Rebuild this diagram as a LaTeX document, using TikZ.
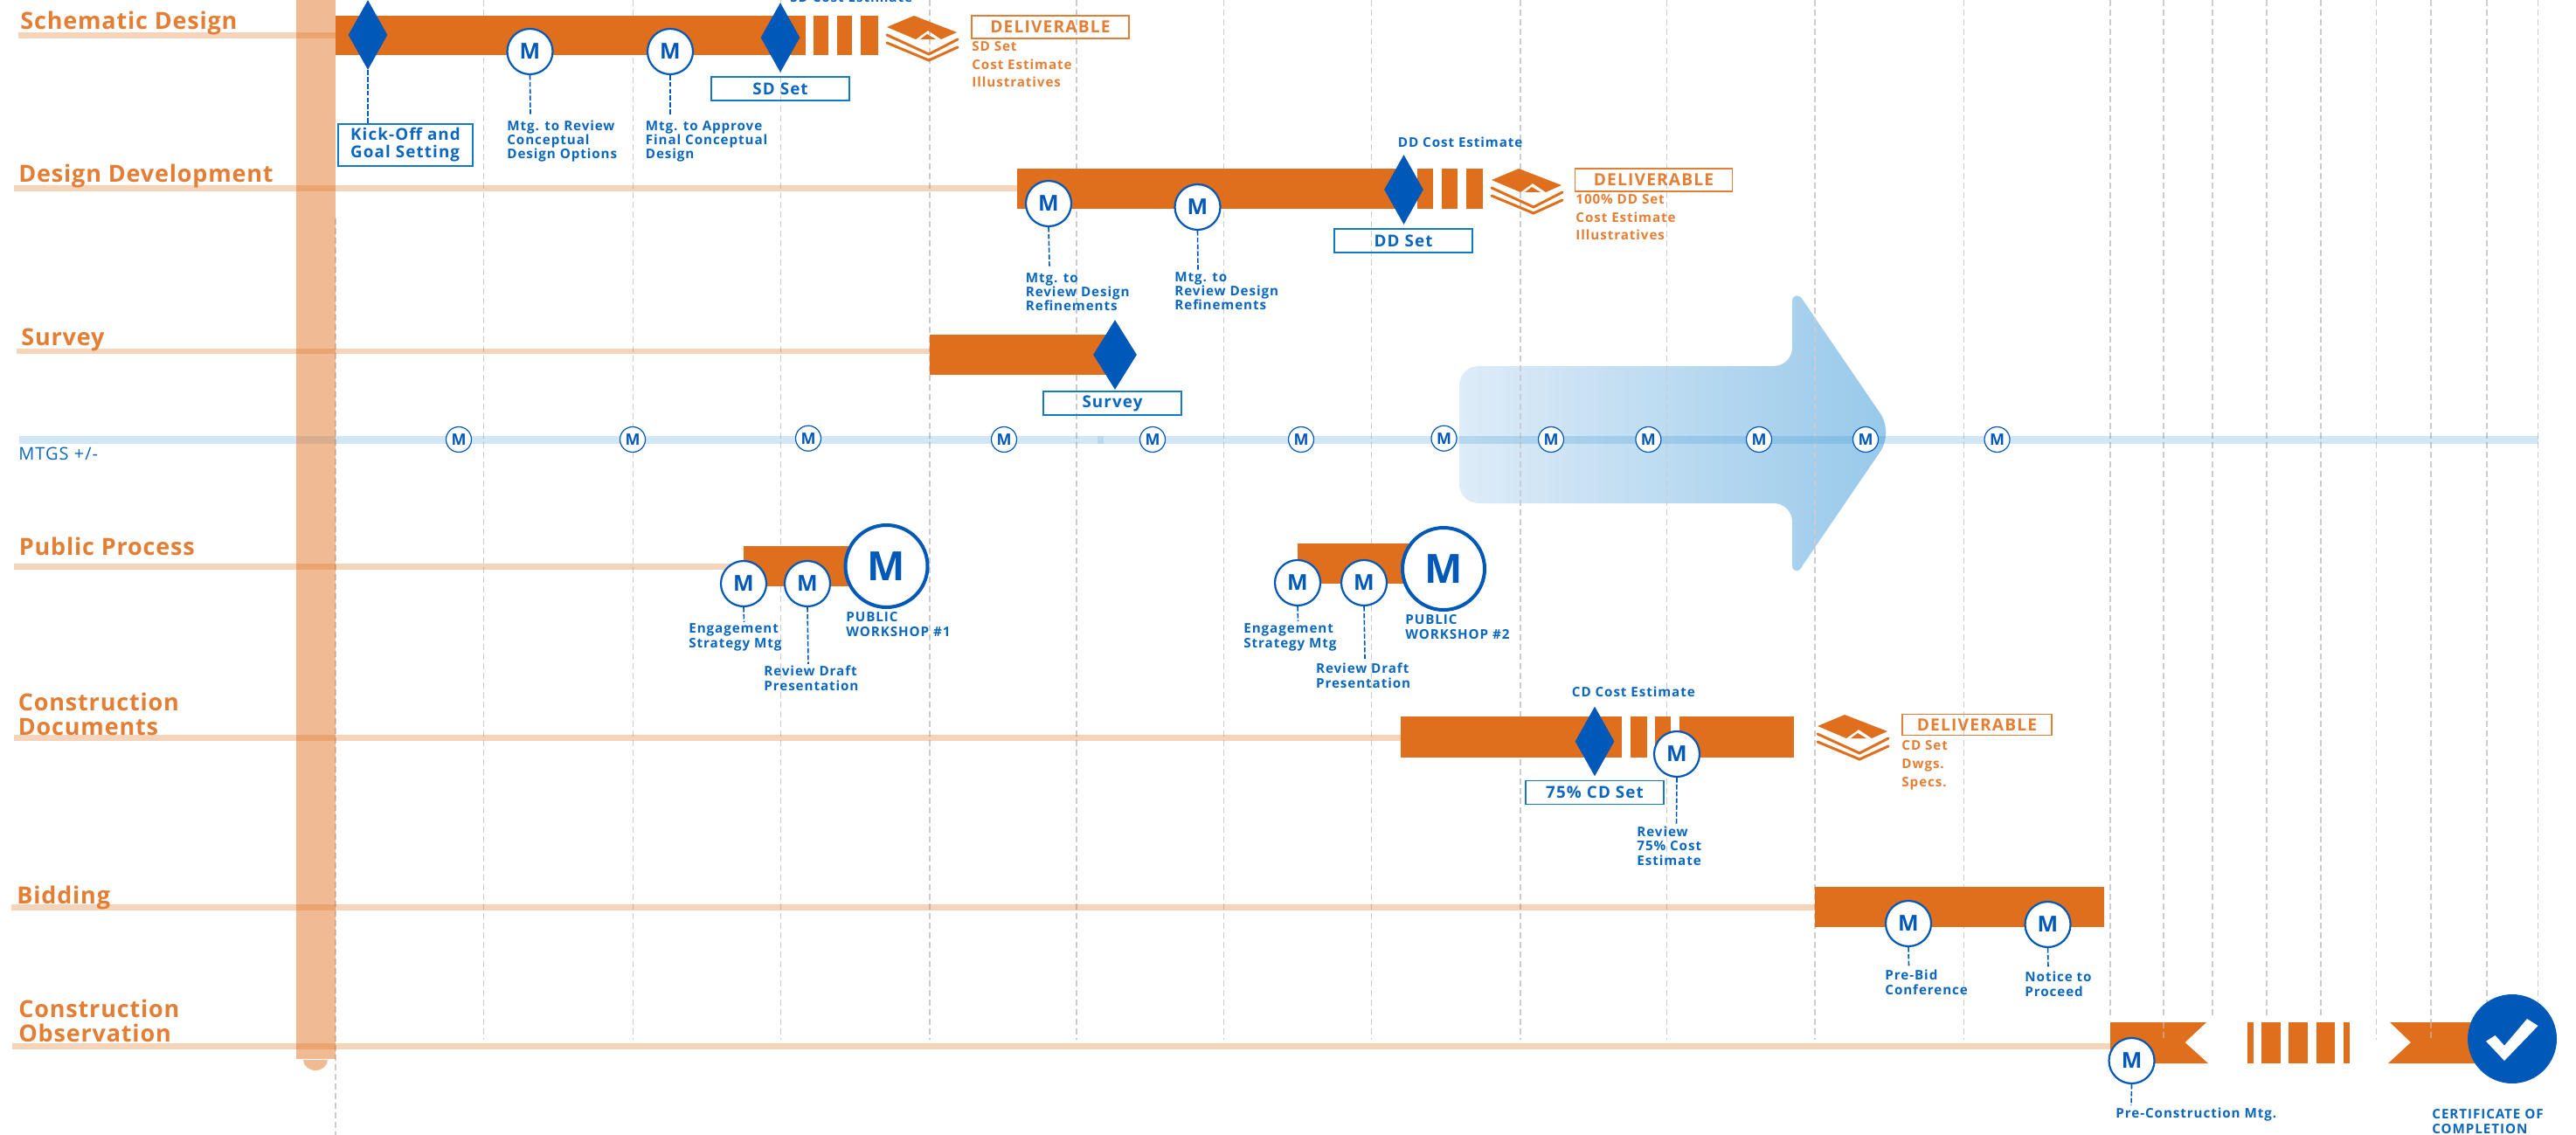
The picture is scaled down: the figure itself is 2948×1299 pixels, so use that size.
\documentclass[tikz,border=0pt]{standalone}
\usepackage{fontspec}
\usetikzlibrary{shapes.geometric}
\newfontfamily\labfam{Open Sans}[LetterSpace=6]
\newfontfamily\phfam{Open Sans}[LetterSpace=3]
\newfontfamily\mtfam{Open Sans}[LetterSpace=5]
\newfontfamily\mfam{Open Sans}
\definecolor{barorange}{HTML}{DF6F1C}
\definecolor{txtorange}{HTML}{E57E35}
\definecolor{mblue}{HTML}{0058B8}
\definecolor{txtblue}{HTML}{0A66BE}
\definecolor{lineblue}{HTML}{1B87CE}
\definecolor{gridgray}{HTML}{CCCCCC}
\definecolor{arrowL}{HTML}{DEECF8}
\definecolor{arrowR}{HTML}{98C9EA}
\tikzset{
  hband/.style={fill=barorange,fill opacity=.3,draw=none},
  vband/.style={fill=barorange,fill opacity=.47,draw=none},
  barfill/.style={fill=barorange,draw=none},
  gridl/.style={draw=gridgray,line width=.55pt,dash pattern=on 3.5pt off 2pt},
  lead/.style={draw=mblue,line width=.8pt,dash pattern=on 2.8pt off 1.1pt},
  mmid/.style={circle,draw=mblue,fill=white,line width=1.1pt,minimum size=26pt,inner sep=0pt,text=mblue,font=\mfam\bfseries\fontsize{12.5}{13}\selectfont},
  mbig/.style={circle,draw=mblue,fill=white,line width=2pt,minimum size=47pt,inner sep=0pt,text=mblue,font=\mfam\bfseries\fontsize{23}{24}\selectfont},
  msmall/.style={circle,draw=mblue,fill=white,line width=.6pt,minimum size=14.5pt,inner sep=0pt,text=mblue,font=\mfam\bfseries\fontsize{9}{10}\selectfont},
  milestone/.style={diamond,fill=mblue,draw=none,inner sep=0pt,minimum width=22.5pt,minimum height=40pt},
  bluebox/.style={rectangle,draw=lineblue!70!mblue,line width=.6pt,inner sep=0pt,text=txtblue,font=\labfam\bfseries\fontsize{9.4}{10}\selectfont},
  orangebox/.style={rectangle,draw=txtorange,line width=.6pt,inner sep=0pt,text=txtorange,font=\labfam\bfseries\fontsize{9.6}{10}\selectfont,minimum width=90pt},
  phase/.style={anchor=base west,inner sep=0pt,text=txtorange,align=left,font=\phfam\bfseries\fontsize{13.5}{13.7}\selectfont},
  bluelab/.style={anchor=base west,inner sep=0pt,text=txtblue,align=left,font=\labfam\bfseries\fontsize{7.6}{8.15}\selectfont},
  orangelab/.style={anchor=base west,inner sep=0pt,text=txtorange,align=left,font=\labfam\bfseries\fontsize{7.6}{10.3}\selectfont},
}
\newcommand\delivicon[2]{%
  \begin{scope}[shift={(#1,#2)}]
    \fill[barorange] (1738,193)--(1707,206)--(1740,220)--(1754,210)--(1769,220)--(1787,212)--cycle;
    \fill[barorange] (1745,220)--(1753,214)--(1763,220)--cycle;
    \draw[barorange,line width=1.5pt,line cap=round] (1707,215)--(1755,237)--(1788,220);
    \draw[barorange,line width=1.5pt,line cap=round] (1707,224)--(1755,244)--(1788,229);
  \end{scope}}
\begin{document}
\begin{tikzpicture}[x=.5pt,y=-.5pt]
\useasboundingbox (0,0) rectangle (2948,1299);
\clip (0,0) rectangle (2948,1299);
% arrow
\shade[left color=arrowL,right color=arrowR]
  (1670,442) .. controls (1670,428) and (1680,419) .. (1693,419) -- (2029,419)
  .. controls (2042,419) and (2051,410) .. (2051,397) -- (2051,345)
  .. controls (2051,337) and (2059,336) .. (2063,343) -- (2153,475)
  .. controls (2160,488) and (2160,502) .. (2153,515) -- (2063,647)
  .. controls (2059,656) and (2051,655) .. (2051,647) -- (2051,598)
  .. controls (2051,585) and (2042,576) .. (2029,576) -- (1693,576)
  .. controls (1680,576) and (1670,567) .. (1670,553) -- cycle;
% grid
\draw[gridl] (384,250)--(384,1299);
\foreach \gx in {553.5,724.5,893.5,1064,1232,1400.5,1569.5,1740,1907.5,2077,2247.5,2719.5,2782}
  \draw[gridl] (\gx,0)--(\gx,1190);
\foreach \gx in {2415,2476,2532,2594,2656}
  \draw[gridl] (\gx,0)--(\gx,1165);
\foreach \gx in {2846,2904.5}
  \draw[gridl] (\gx,0)--(\gx,1150);
% timelines
\fill[hband] (21,37) rectangle (384,44);
\fill[hband] (16,212) rectangle (1165,219);
\fill[hband] (19,399) rectangle (1065,405);
\fill[lineblue,fill opacity=.2] (22,499) rectangle (2905,508);
\fill[lineblue,fill opacity=.15] (1256,499) rectangle (1263,508);
\fill[hband] (16,645) rectangle (851,652);
\fill[hband] (16,841) rectangle (1603,848);
\fill[hband] (13,1035) rectangle (2077,1042);
\fill[hband] (14,1194) rectangle (2417,1201);
\fill[vband] (339,0) rectangle (384,1212);
\fill[vband] (347,1213) arc[start angle=180,end angle=0,x radius=14,y radius=12] -- cycle;
% bars
\fill[barfill] (384,18) rectangle (921.5,63);
\fill[barfill] (931,18) rectangle (948,63);
\fill[barfill] (958,18) rectangle (975,63);
\fill[barfill] (985,18) rectangle (1005,63);
\fill[barfill] (1164,193) rectangle (1600,239);
\fill[barfill] (1622,193) rectangle (1640,239);
\fill[barfill] (1650,193) rectangle (1668,239);
\fill[barfill] (1678,193) rectangle (1697,239);
\fill[barfill] (1064,383) rectangle (1270,429);
\fill[barfill] (851,625) rectangle (1000,671);
\fill[barfill] (1485,622) rectangle (1620,668);
\fill[barfill] (1603,820) rectangle (1856,867);
\fill[barfill] (1866,820) rectangle (1885,867);
\fill[barfill] (1894,820) rectangle (1912,867);
\fill[barfill] (1922,820) rectangle (2053,867);
\fill[barfill] (2077,1015) rectangle (2408,1061);
\fill[barfill] (2415,1170) -- (2525,1170) -- (2500.5,1193) -- (2527,1217) -- (2415,1217) -- cycle;
\fill[barfill] (2572,1170) rectangle (2578.5,1217);
\fill[barfill] (2588,1170) rectangle (2609.5,1217);
\fill[barfill] (2619,1170) rectangle (2641,1217);
\fill[barfill] (2650.5,1170) rectangle (2672,1217);
\fill[barfill] (2682,1170) rectangle (2689,1217);
\fill[barfill] (2735,1170) -- (2840,1170) -- (2840,1217) -- (2733,1217) -- (2759,1193) -- cycle;
\draw[gridl,opacity=.5] (2476,1170)--(2476,1190);
\draw[gridl,opacity=.5] (2782,1170)--(2782,1190);
% icons
\delivicon{-692}{-175}
\delivicon{0}{0}
\delivicon{373}{625}
% phase labels
\node[phase] (tSD) at (23,34) {Schematic Design};
\node[phase] (tDD) at (21,209) {Design Development};
\node[phase] (tSV) at (24,395) {Survey};
\node[phase] (tPP) at (21.5,635) {Public Process};
\node[phase] (tCD) at (20.5,841) {Construction\\Documents};
\node[phase] (tBD) at (19,1034) {Bidding};
\node[phase] (tCO) at (21,1192) {Construction\\Observation};
\node[anchor=base west,inner sep=0pt,text=txtblue,font=\mtfam\fontsize{10}{11}\selectfont] (tMT) at (21,526) {MTGS +/-};
% milestones
\node[milestone] (dKick) at (421,40) {};
\node[milestone] (dSD) at (893,43) {};
\node[milestone] (dDD) at (1606.5,217) {};
\node[milestone,minimum width=25pt] (dSV) at (1276,406) {};
\node[milestone] (dCD) at (1825,848.5) {};
% boxes
\node[bluebox,minimum width=77pt,minimum height=24pt,align=left] (bKick) at (464,166) {Kick-Off and\\Goal Setting};
\node[bluebox,minimum width=79pt,minimum height=13.5pt] (bSD) at (893,101.5) {SD Set};
\node[bluebox,minimum width=79pt,minimum height=13.5pt] (bDD) at (1606,275.5) {DD Set};
\node[bluebox,minimum width=79pt,minimum height=13.5pt] (bSV) at (1273,461.5) {Survey};
\node[bluebox,minimum width=79pt,minimum height=13.5pt] (bCD) at (1825,907) {75\% CD Set};
\node[orangebox,minimum height=13pt] (oSD) at (1202,31) {DELIVERABLE};
\node[orangebox,minimum height=13pt] (oDD) at (1892.5,206) {DELIVERABLE};
\node[orangebox,minimum width=85.5pt,minimum height=12pt] (oCD) at (2262.5,829.5) {DELIVERABLE};
% M nodes
\node[mmid] (m1) at (606.5,59) {M};
\node[mmid] (m2) at (767,59) {M};
\node[mmid] (m3) at (1200,233) {M};
\node[mmid] (m4) at (1370.5,237) {M};
\node[mmid] (m5) at (851,668) {M};
\node[mmid] (m6) at (924,668) {M};
\node[mbig] (m7) at (1014.5,648) {M};
\node[mmid] (m8) at (1485,667) {M};
\node[mmid] (m9) at (1561,667) {M};
\node[mbig] (m10) at (1652,651) {M};
\node[mmid] (m11) at (1919,863) {M};
\node[mmid] (m12) at (2184,1057) {M};
\node[mmid] (m13) at (2343.5,1058) {M};
\node[mmid] (m14) at (2439.5,1214) {M};
% small M nodes
\foreach \i/\sx/\sy in {1/525/503,2/724/503,3/925/501.7,4/1149/503,5/1319/503,6/1489/503,7/1652.5/501.7,8/1775/503,9/1886.4/503,10/2013/503,11/2135/503,12/2285.5/503}
  \node[msmall] (s\i) at (\sx,\sy) {M};
% certificate
\node[circle,fill=mblue,draw=none,minimum size=51pt,inner sep=0pt] (cert) at (2875,1189) {};
\fill[white] (2855.5,1185)--(2866,1196.7)--(2892,1166)--(2904.5,1174)--(2866,1214)--(2845,1191.7)--cycle;
% leader ends
\coordinate (e1) at (607,131);
\coordinate (e2) at (767,131);
\coordinate (e3) at (1201,306);
\coordinate (e4) at (1371,310);
\coordinate (e5) at (851.5,712);
\coordinate (e6) at (925,760);
\coordinate (e8) at (1485.5,711);
\coordinate (e9) at (1562,754);
\coordinate (e11) at (1918.5,943);
\coordinate (e12) at (2184.5,1107);
\coordinate (e13) at (2344,1108);
\coordinate (e14) at (2439,1265);
\draw[lead] (dKick.south) -- (dKick.south |- bKick.north);
\foreach \a/\b in {m1/e1,m2/e2,m3/e3,m4/e4,m5/e5,m6/e6,m8/e8,m9/e9,m11/e11,m12/e12,m13/e13,m14/e14}
  \draw[lead] (\a.south) -- (\b);
% blue labels
\node[bluelab] (l1) at (580,182) {Mtg. to Review\\Conceptual\\Design Options};
\node[bluelab] (l2) at (738.5,182) {Mtg. to Approve\\Final Conceptual\\Design};
\node[bluelab] (l3) at (904,3) {SD Cost Estimate};
\node[bluelab] (l4) at (1599.5,169) {DD Cost Estimate};
\node[bluelab] (l5) at (1173.5,356) {Mtg. to\\Review Design\\Refinements};
\node[bluelab] (l6) at (1344,355) {Mtg. to\\Review Design\\Refinements};
\node[bluelab] (l7) at (788,741) {Engagement\\Strategy Mtg};
\node[bluelab] (l8) at (874,790) {Review Draft\\Presentation};
\node[bluelab] (l9) at (968,728) {PUBLIC\\WORKSHOP \#1};
\node[bluelab] (l10) at (1423,741) {Engagement\\Strategy Mtg};
\node[bluelab] (l11) at (1505.7,787) {Review Draft\\Presentation};
\node[bluelab] (l12) at (1608,731) {PUBLIC\\WORKSHOP \#2};
\node[bluelab] (l13) at (1798.5,797) {CD Cost Estimate};
\node[bluelab] (l14) at (1873,990) {Review\\75\% Cost\\Estimate};
\node[bluelab] (l15) at (2157,1138) {Pre-Bid\\Conference};
\node[bluelab] (l16) at (2317,1140) {Notice to\\Proceed};
\node[bluelab] (l17) at (2421,1279) {Pre-Construction Mtg.};
\node[bluelab] (l18) at (2783,1297) {CERTIFICATE OF\\COMPLETION};
% orange labels
\node[orangelab] (o1) at (1112,100) {SD Set\\Cost Estimate\\Illustratives};
\node[orangelab] (o2) at (1803,275) {100\% DD Set\\Cost Estimate\\Illustratives};
\node[orangelab] (o3) at (2176,900) {CD Set\\Dwgs.\\Specs.};
\end{tikzpicture}
\end{document}
